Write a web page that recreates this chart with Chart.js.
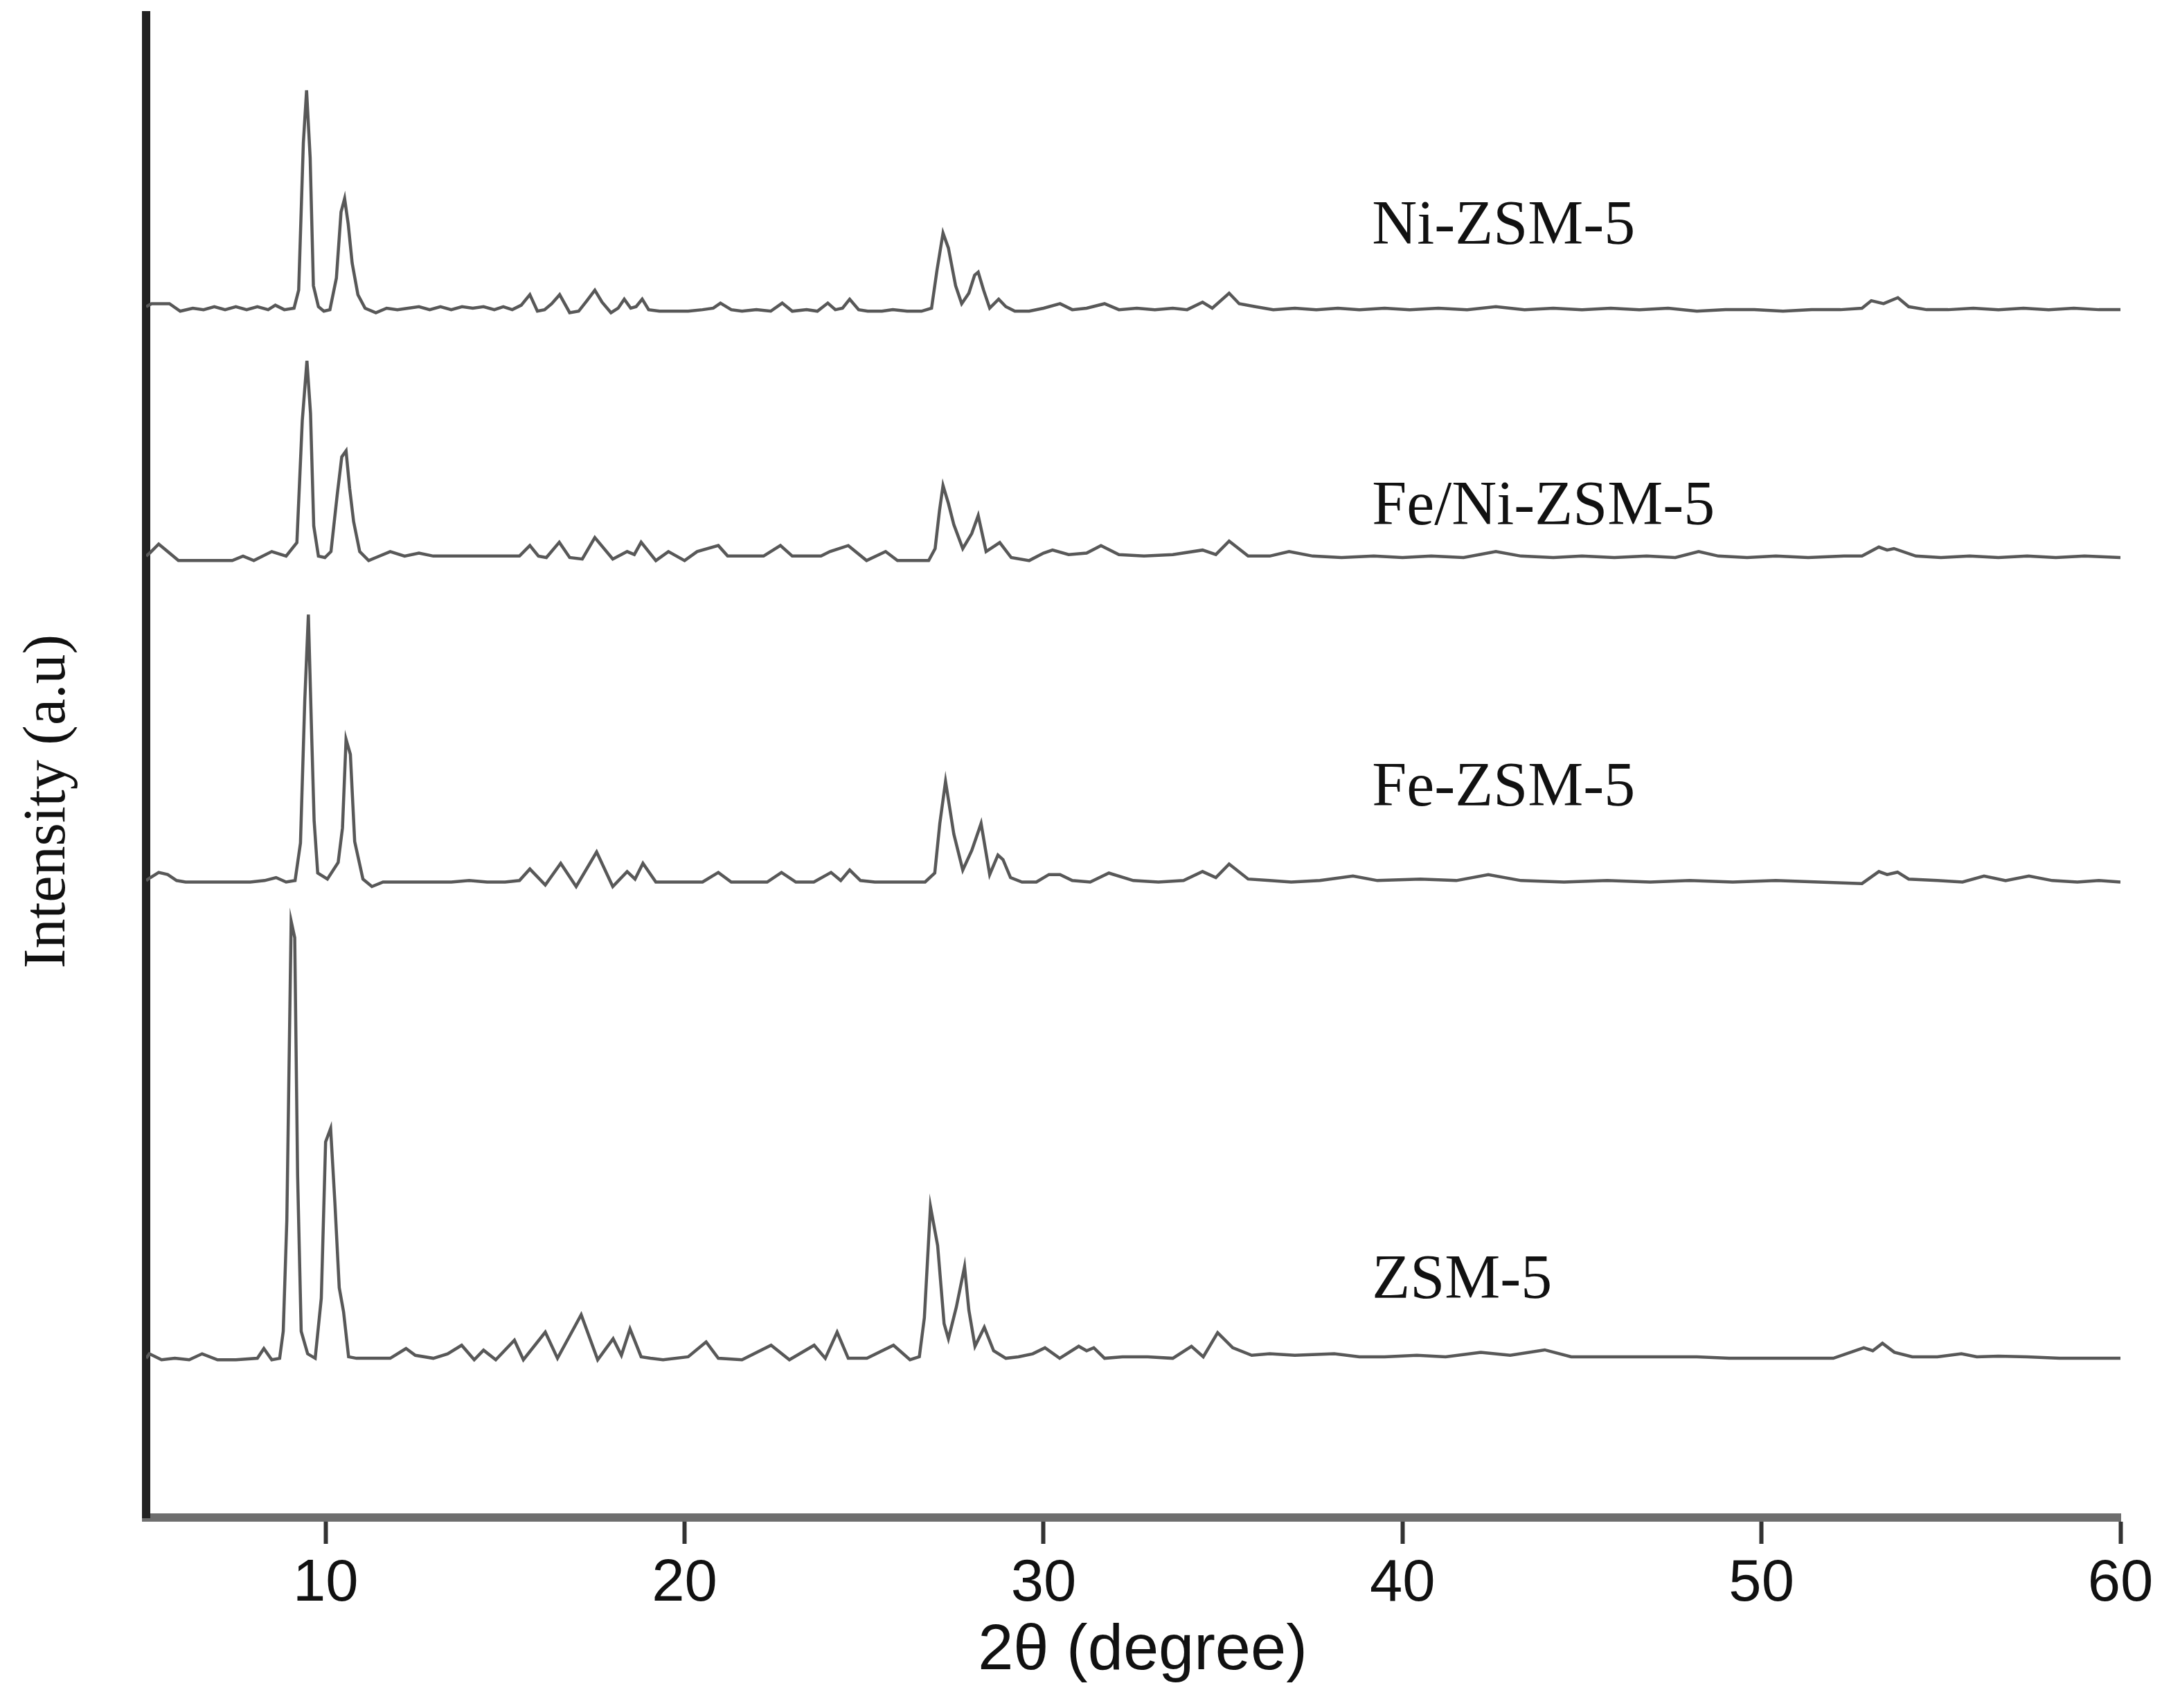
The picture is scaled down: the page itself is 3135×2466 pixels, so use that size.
<!DOCTYPE html>
<html lang="en">
<head>
  <meta charset="UTF-8" />
  <title>XRD patterns - ZSM-5 samples</title>
  <script src="https://cdn.jsdelivr.net/npm/chart.js"></script>
  <style>
    html, body { margin: 0; padding: 0; background: #fff; }
    canvas { display: block; }
  </style>
</head>
<body>
  <canvas id="xrd" width="3135" height="2466"></canvas>

  <script>
    // Sample names, top to bottom
    const seriesNames = ['Ni-ZSM-5', 'Fe/Ni-ZSM-5', 'Fe-ZSM-5', 'ZSM-5'];
    // vertical offset of each trace (a.u.)
    const offsets = [805, 640, 424, 106];
    // where the name text sits (baseline, a.u.) and its 2θ start
    const labelLevels = [848, 661, 474, 146];
    const labelTheta = 39.15;

    const xTicks = [10, 20, 30, 40, 50, 60];

    // [2θ, intensity above the trace's own baseline]
    const niZsm = [
      [5.0,1],[5.15,3],[5.65,3],[5.95,-2],[6.3,0],[6.6,-1],[6.9,1],[7.2,-1],[7.5,1],[7.8,-1],[8.1,1],[8.4,-1],
      [8.6,2],[8.85,-1],[9.12,0],[9.25,12],[9.38,110],[9.47,145],[9.57,100],[9.66,15],[9.8,1],[9.95,-2],
      [10.12,-1],[10.3,20],[10.43,64],[10.53,73],[10.63,56],[10.74,30],[10.9,9],[11.1,0],[11.4,-3],[11.7,0],
      [12.0,-1],[12.3,0],[12.6,1],[12.9,-1],[13.2,1],[13.5,-1],[13.8,1],[14.1,0],[14.4,1],[14.7,-1],[14.95,1],
      [15.2,-1],[15.45,2],[15.69,9],[15.9,-2],[16.1,-1],[16.3,3],[16.52,9],[16.8,-3],[17.05,-2],[17.28,5],
      [17.5,12],[17.7,4],[17.95,-3],[18.15,0],[18.32,6],[18.5,0],[18.65,1],[18.82,6],[19.0,-1],[19.3,-2],
      [19.7,-2],[20.1,-2],[20.5,-1],[20.8,0],[21.0,3.4],[21.3,-1],[21.6,-2],[22.0,-1],[22.4,-2],[22.72,3.4],
      [23.0,-2],[23.4,-1],[23.7,-2],[23.99,3.4],[24.2,-1],[24.4,0],[24.6,6],[24.85,-1],[25.1,-2],[25.5,-2],
      [25.8,-1],[26.2,-2],[26.6,-2],[26.88,0],[27.03,25],[27.2,50],[27.35,40],[27.55,15],[27.72,3],[27.92,10],
      [28.08,22],[28.18,24],[28.33,12],[28.5,0],[28.75,6],[28.95,1],[29.2,-2],[29.6,-2],[30.0,0],[30.46,3],
      [30.8,-1],[31.2,0],[31.7,3],[32.1,-1],[32.6,0],[33.1,-1],[33.6,0],[34.0,-1],[34.43,4],[34.7,0],[35.17,10],
      [35.45,3],[35.9,1],[36.4,-1],[37.0,0],[37.6,-1],[38.2,0],[38.8,-1],[39.5,0],[40.2,-1],[41.0,0],[41.8,-1],
      [42.6,1],[43.4,-1],[44.2,0],[45.0,-1],[45.8,0],[46.6,-1],[47.4,0],[48.2,-2],[49.0,-1],[49.8,-1],[50.6,-2],
      [51.4,-1],[52.2,-1],[52.8,0],[53.06,5],[53.4,3],[53.8,7],[54.1,1],[54.6,-1],[55.2,-1],[55.9,0],[56.6,-1],
      [57.3,0],[58.0,-1],[58.7,0],[59.4,-1],[60.0,-1]
    ];

    const feNiZsm = [
      [5.0,0],[5.1,2],[5.35,8],[5.6,3],[5.9,-3],[6.4,-3],[7.0,-3],[7.4,-3],[7.7,0],[8.0,-3],[8.5,3],[8.9,0],
      [9.2,9],[9.35,90],[9.48,130],[9.58,95],[9.67,20],[9.8,0],[9.98,-1],[10.15,3],[10.32,40],[10.45,66],
      [10.57,70],[10.67,45],[10.78,23],[10.95,3],[11.2,-3],[11.4,-1],[11.8,3],[12.2,0],[12.6,2],[13.0,0],
      [13.5,0],[14.2,0],[15.0,0],[15.4,0],[15.69,7],[15.93,0],[16.15,-1],[16.51,9.2],[16.8,-1],[17.15,-2],
      [17.5,12.3],[18.0,-2],[18.4,3],[18.6,1],[18.79,9.2],[19.2,-3],[19.55,3],[20.0,-3],[20.35,3],[20.94,7],
      [21.2,0],[22.2,0],[22.67,7],[23.0,0],[23.8,0],[24.05,3],[24.56,7],[25.07,-3],[25.6,3],[25.93,-3],
      [26.8,-3],[26.98,5],[27.1,30],[27.2,47],[27.35,35],[27.5,21],[27.75,5],[28.0,15],[28.18,27],[28.4,3],
      [28.78,9],[29.1,-1],[29.6,-3],[30.0,2],[30.25,4],[30.7,1],[31.2,2],[31.6,7],[32.1,1],[32.8,0],[33.6,1],
      [34.43,4],[34.8,1],[35.17,10],[35.7,0],[36.3,0],[36.84,3],[37.5,0],[38.3,-1],[39.2,0],[40.0,-1],[40.8,0],
      [41.7,-1],[42.6,3],[43.3,0],[44.2,-1],[45.0,0],[45.9,-1],[46.8,0],[47.6,-1],[48.25,3],[48.8,0],[49.6,-1],
      [50.4,0],[51.3,-1],[52.3,0],[52.8,0],[53.27,6],[53.5,4],[53.69,5],[54.3,0],[55.0,-1],[55.8,0],[56.6,-1],
      [57.4,0],[58.2,-1],[59.0,0],[60.0,-1]
    ];

    const feZsm = [
      [5.0,0],[5.12,2],[5.35,5.4],[5.6,4],[5.85,0],[6.1,-1],[6.5,-1],[7.0,-1],[7.5,-1],[7.9,-1],[8.3,0],
      [8.62,2],[8.9,-1],[9.15,0],[9.3,25],[9.42,120],[9.52,177],[9.62,90],[9.68,40],[9.78,5],[10.05,1],
      [10.35,12],[10.47,35],[10.57,94],[10.69,84],[10.81,26],[11.04,1],[11.29,-4],[11.6,-1],[12.0,-1],
      [12.5,-1],[13.0,-1],[13.5,-1],[14.0,0],[14.5,-1],[15.0,-1],[15.4,0],[15.69,7.7],[16.12,-3],[16.55,11.5],
      [16.98,-4],[17.55,19],[18.0,-4],[18.4,6],[18.62,1],[18.84,11.5],[19.2,-1],[19.6,-1],[20.0,-1],[20.5,-1],
      [20.94,5.4],[21.3,-1],[21.8,-1],[22.3,-1],[22.7,5.4],[23.1,-1],[23.6,-1],[24.08,5.4],[24.35,0],[24.6,7],
      [24.9,0],[25.3,-1],[25.8,-1],[26.3,-1],[26.7,-1],[26.97,5],[27.11,38],[27.27,66],[27.5,31],[27.75,7],
      [28.0,20],[28.26,38],[28.5,4],[28.73,17],[28.87,14],[29.08,2],[29.4,-1],[29.8,-1],[30.15,4],[30.46,4],
      [30.8,0],[31.3,-1],[31.82,5],[32.5,0],[33.2,-1],[33.9,0],[34.43,6],[34.8,2],[35.17,11],[35.7,1],[36.3,0],
      [36.9,-1],[37.7,0],[38.62,3],[39.3,0],[40.5,1],[41.5,0],[42.39,4],[43.3,0],[44.5,-1],[45.7,0],[46.9,-1],
      [48.0,0],[49.2,-1],[50.4,0],[51.6,-1],[52.8,-2],[53.27,6],[53.5,4],[53.79,5.6],[54.1,1],[54.9,0],
      [55.6,-1],[56.2,3],[56.8,0],[57.45,3],[58.1,0],[58.8,-1],[59.4,0],[60.0,-1]
    ];

    const zsm = [
      [5.0,0],[5.09,3],[5.43,-1],[5.8,0],[6.2,-1],[6.56,3],[6.99,-1],[7.5,-1],[8.1,0],[8.28,6.5],[8.5,-1],
      [8.72,0],[8.82,18],[8.92,92],[9.04,291],[9.14,280],[9.22,122],[9.32,18],[9.5,3],[9.71,0],[9.88,40],
      [10.0,144],[10.14,153],[10.26,103],[10.38,47],[10.5,31],[10.64,1],[10.86,0],[11.3,0],[11.8,0],
      [12.24,6.5],[12.5,2],[13.0,0],[13.4,3],[13.79,8.7],[14.14,-1],[14.4,5.4],[14.74,-1],[15.26,12],
      [15.51,-1],[16.12,17.4],[16.46,0],[17.12,29],[17.58,-1],[18.01,13],[18.24,2],[18.48,19.6],[18.79,1],
      [19.05,0],[19.4,-1],[20.1,1],[20.6,10.9],[20.94,0],[21.6,-1],[22.41,8.7],[22.92,-1],[23.61,8.7],
      [23.92,0],[24.25,17.4],[24.56,0],[25.08,0],[25.82,8.7],[26.28,-1],[26.54,1],[26.68,27],[26.85,101],
      [27.05,75],[27.23,23],[27.35,13],[27.57,34],[27.8,61],[27.92,32],[28.09,8],[28.35,20.6],[28.61,5],
      [28.95,0],[29.3,1],[29.7,3],[30.04,7],[30.45,0],[30.98,8],[31.2,5],[31.4,7],[31.7,0],[32.2,1],[32.9,1],
      [33.6,0],[34.12,8],[34.45,1],[34.85,17],[35.27,7],[35.8,2],[36.3,3],[37.0,2],[38.1,3],[38.8,1],[39.5,1],
      [40.4,2],[41.2,1],[42.18,4],[43.0,2],[43.96,5.6],[44.7,1],[45.5,1],[46.4,1],[47.3,1],[48.2,1],[49.1,0],
      [50.0,0],[51.0,0],[52.0,0],[52.85,7],[53.1,5],[53.37,10],[53.7,4],[54.2,1],[54.9,1],[55.57,3],[56.0,1],
      [56.6,1.4],[57.4,1],[58.3,0],[59.2,0],[60.0,0]
    ];

    const patterns = [niZsm, feNiZsm, feZsm, zsm];

    Chart.defaults.font.family = '"Liberation Sans", Arial, sans-serif';
    Chart.defaults.color = '#111';

    const datasets = patterns.map((pts, i) => ({
      label: seriesNames[i],
      data: pts.map(([t, v]) => ({ x: t, y: offsets[i] + v })),
      borderColor: '#585858',
      borderWidth: 4.5,
      pointRadius: 0,
      tension: 0,
      fill: false
    }));

    // sample names, axis titles
    const annotate = {
      id: 'annotate',
      afterDraw(chart) {
        const { ctx, scales: { x, y } } = chart;
        ctx.save();
        ctx.fillStyle = '#111';
        ctx.font = '90px "Liberation Serif", "Times New Roman", serif';
        ctx.textAlign = 'left';
        ctx.textBaseline = 'alphabetic';
        seriesNames.forEach((name, i) => {
          ctx.fillText(name, x.getPixelForValue(labelTheta), y.getPixelForValue(labelLevels[i]));
        });

        // x title
        ctx.textAlign = 'center';
        ctx.font = '92px "Liberation Sans", Arial, sans-serif';
        ctx.fillText('2θ (degree)', 1650, 2410);

        // y title
        ctx.translate(93, 1157);
        ctx.rotate(-Math.PI / 2);
        ctx.font = '86px "Liberation Serif", "Times New Roman", serif';
        ctx.fillText('Intensity (a.u)', 0, 0);
        ctx.restore();
      }
    };

    new Chart(document.getElementById('xrd').getContext('2d'), {
      type: 'line',
      data: { datasets },
      options: {
        responsive: false,
        animation: false,
        layout: { padding: { left: 211, top: 22, right: 73, bottom: 120 } },
        plugins: { legend: { display: false }, tooltip: { enabled: false } },
        scales: {
          x: {
            type: 'linear',
            min: 5,
            max: 60,
            afterBuildTicks: (scale) => { scale.ticks = xTicks.map(v => ({ value: v })); },
            grid: { display: true, drawOnChartArea: false, drawTicks: true, tickLength: 38, tickWidth: 6, tickColor: '#333' },
            border: { display: true, color: '#6e6e6e', width: 12 },
            ticks: { padding: 16, font: { size: 85, lineHeight: 1.0 }, color: '#111', maxRotation: 0 },
            title: { display: false }
          },
          y: {
            min: 0,
            max: 1000,
            grid: { display: false, drawTicks: false },
            border: { display: true, color: '#222', width: 12 },
            ticks: { display: false }
          }
        }
      },
      plugins: [annotate]
    });
  </script>
</body>
</html>
